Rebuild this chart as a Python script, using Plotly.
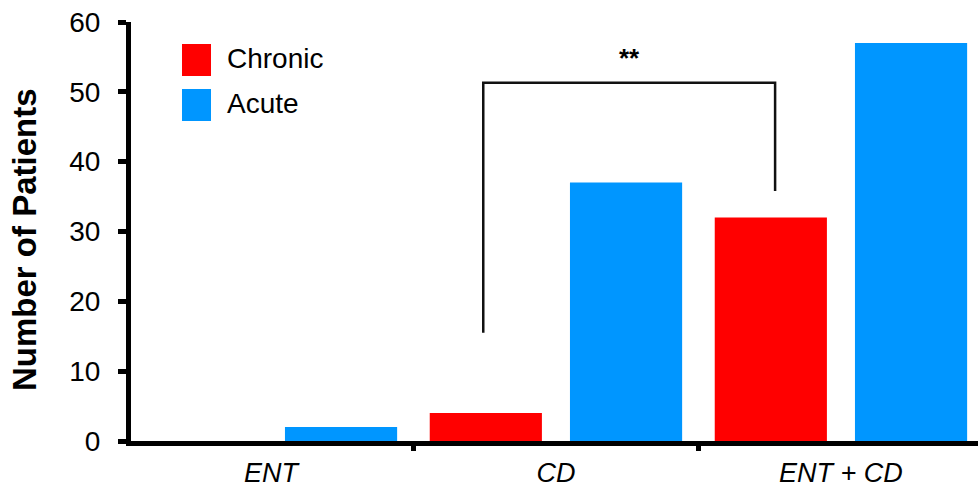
import plotly.graph_objects as go

categories = ["ENT", "CD", "ENT + CD"]
chronic = [0, 4, 32]
acute = [2, 37, 57]
y_ticks = [0, 10, 20, 30, 40, 50, 60]

RED = "#FF0000"
BLUE = "#0096FF"
FONT = "Liberation Sans, Arial, Helvetica, sans-serif"

W, H = 980, 491
ML, MR, MT, MB = 131, 2, 22, 50
PW, PH = W - ML - MR, H - MT - MB


def px(x):
    return (x - ML) / PW


def py(y):
    return (H - MB - y) / PH


fig = go.Figure()
fig.add_trace(go.Bar(x=categories, y=chronic, name="Chronic", marker=dict(color=RED, line=dict(width=0))))
fig.add_trace(go.Bar(x=categories, y=acute, name="Acute", marker=dict(color=BLUE, line=dict(width=0))))

fig.update_layout(
    width=W, height=H,
    margin=dict(l=ML, r=MR, t=MT, b=MB, pad=0, autoexpand=False),
    paper_bgcolor="white", plot_bgcolor="white",
    barmode="group", bargap=0.016, bargroupgap=0.2,
    showlegend=False,
    font=dict(family=FONT, color="black", size=28),
)

fig.update_xaxes(
    range=[-0.491, -0.491 + PW / 285.0],
    automargin=False,
    showline=True, linecolor="black", linewidth=5,
    ticks="outside", tickson="boundaries", ticklen=5, tickwidth=5, tickcolor="black",
    showgrid=False, zeroline=False,
    ticklabelstandoff=4,
    tickfont=dict(family=FONT, size=27, style="italic"),
)
fig.update_yaxes(
    range=[0, 60], tickvals=y_ticks,
    automargin=False,
    showline=True, linecolor="black", linewidth=5,
    ticks="outside", ticklen=8, tickwidth=5, tickcolor="black",
    showgrid=False, zeroline=False,
    ticklabelstandoff=12,
    tickfont=dict(family=FONT, size=28),
)

# y-axis title
fig.add_annotation(
    text="<b>Number of Patients</b>", textangle=-90,
    x=px(25), y=py(240), xref="paper", yref="paper",
    xanchor="center", yanchor="middle", showarrow=False,
    font=dict(family=FONT, size=33, color="black"),
)

# legend (manual, large squares)
legend_items = [("Chronic", RED, 44, 76), ("Acute", BLUE, 89, 121)]
for name, col, y0, y1 in legend_items:
    fig.add_shape(type="rect", xref="paper", yref="paper",
                  x0=px(182), x1=px(211), y0=py(y1), y1=py(y0),
                  fillcolor=col, line=dict(width=0))
    fig.add_annotation(text=name, x=px(225), y=py((y0 + y1) / 2 - 1), xref="paper", yref="paper",
                       xanchor="left", yanchor="middle", showarrow=False,
                       font=dict(family=FONT, size=28, color="black"))

# significance bracket between CD chronic and ENT+CD chronic
br_x = [0.745, 1.769]
br_y = [15.5, 51.3, 35.8]
fig.add_shape(type="path", xref="x", yref="y",
              path=f"M {br_x[0]},{br_y[0]} L {br_x[0]},{br_y[1]} L {br_x[1]},{br_y[1]} L {br_x[1]},{br_y[2]}",
              line=dict(color="#111111", width=2.5))
fig.add_annotation(text="<b>**</b>", x=(br_x[0] + br_x[1]) / 2, y=py(58), xref="x", yref="paper",
                   xanchor="center", yanchor="middle", showarrow=False,
                   font=dict(family=FONT, size=26, color="black"))

fig.write_html("out.html")
